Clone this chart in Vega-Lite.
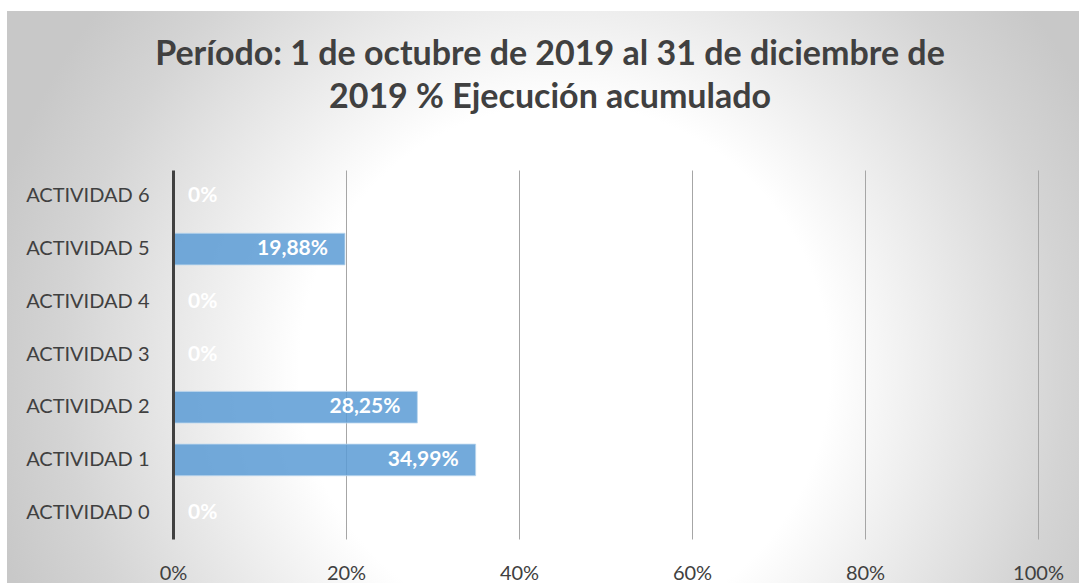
{
  "$schema": "https://vega.github.io/schema/vega-lite/v6.json",
  "width": 1072,
  "height": 572,
  "autosize": {"type": "none"},
  "padding": {"left": 7, "top": 11, "right": 0, "bottom": 0},
  "background": "#ffffff",
  "config": {
    "font": "Lato",
    "locale": {"number": {"decimal": ",", "thousands": ".", "grouping": [3], "currency": ["", " €"]}},
    "view": {
      "stroke": null,
      "fill": {
        "gradient": "radial",
        "x1": 0.52, "y1": 0.568, "r1": 0,
        "x2": 0.52, "y2": 0.568, "r2": 0.55,
        "stops": [
          {"offset": 0, "color": "#ffffff"},
          {"offset": 0.45, "color": "#ffffff"},
          {"offset": 0.85, "color": "#d4d4d4"},
          {"offset": 1, "color": "#c8c8c8"}
        ]
      }
    }
  },
  "title": {
    "text": ["Período: 1 de octubre de 2019 al 31 de diciembre de", "2019 % Ejecución acumulado"],
    "font": "Lato",
    "fontSize": 34,
    "fontWeight": "bold",
    "color": "#404040",
    "anchor": "middle",
    "frame": "group",
    "lineHeight": 43,
    "baseline": "top",
    "offset": 0,
    "dx": 7,
    "dy": 104
  },
  "data": {
    "values": [
      {"actividad": "ACTIVIDAD 0", "valor": 0},
      {"actividad": "ACTIVIDAD 1", "valor": 0.3499},
      {"actividad": "ACTIVIDAD 2", "valor": 0.2825},
      {"actividad": "ACTIVIDAD 3", "valor": 0},
      {"actividad": "ACTIVIDAD 4", "valor": 0},
      {"actividad": "ACTIVIDAD 5", "valor": 0.1988},
      {"actividad": "ACTIVIDAD 6", "valor": 0}
    ]
  },
  "encoding": {
    "y": {
      "field": "actividad", "type": "nominal",
      "sort": ["ACTIVIDAD 6", "ACTIVIDAD 5", "ACTIVIDAD 4", "ACTIVIDAD 3", "ACTIVIDAD 2", "ACTIVIDAD 1", "ACTIVIDAD 0"],
      "scale": {"range": [159, 528], "paddingInner": 0.4, "paddingOuter": 0.2},
      "axis": {
        "orient": "left", "offset": -166, "title": null,
        "domain": true, "domainColor": "#404040", "domainWidth": 3,
        "ticks": false, "grid": false,
        "labelFont": "Lato", "labelFontSize": 20, "labelColor": "#404040", "labelPadding": 24,
        "zindex": 1
      }
    }
  },
  "resolve": {"axis": {"x": "independent", "y": "shared"}},
  "layer": [
    {
      "mark": {"type": "bar", "fill": "#5B9BD5", "fillOpacity": 0.85, "stroke": "#bdd7ee", "strokeWidth": 1, "strokeOpacity": 0.8},
      "encoding": {
        "x": {
          "field": "valor", "type": "quantitative",
          "scale": {"domain": [0, 1], "range": [166, 1031]},
          "axis": {
            "orient": "top", "title": null, "labels": false, "ticks": false, "domain": false,
            "grid": true, "gridColor": "#a6a6a6", "gridWidth": 1,
            "values": [0.2, 0.4, 0.6, 0.8, 1]
          }
        }
      }
    },
    {
      "transform": [{"filter": "datum.valor > 0"}],
      "mark": {"type": "text", "align": "right", "baseline": "middle", "dx": -17, "font": "Lato", "fontSize": 21, "fontWeight": "bold", "color": "#ffffff"},
      "encoding": {
        "x": {
          "field": "valor", "type": "quantitative",
          "scale": {"domain": [0, 1], "range": [166, 1031]},
          "axis": {
            "orient": "bottom", "offset": -44, "title": null, "grid": false, "ticks": false, "domain": false,
            "format": ".0%", "values": [0, 0.2, 0.4, 0.6, 0.8, 1],
            "labelFont": "Lato", "labelFontSize": 20, "labelColor": "#404040", "labelPadding": 24,
            "labelFlush": false, "labelOverlap": false
          }
        },
        "text": {"field": "valor", "type": "quantitative", "format": ".2%"}
      }
    },
    {
      "transform": [{"filter": "datum.valor == 0"}],
      "mark": {"type": "text", "align": "left", "baseline": "middle", "dx": 15, "font": "Lato", "fontSize": 21, "fontWeight": "bold", "color": "#ffffff"},
      "encoding": {
        "x": {
          "field": "valor", "type": "quantitative",
          "scale": {"domain": [0, 1], "range": [166, 1031]},
          "axis": null
        },
        "text": {"field": "valor", "type": "quantitative", "format": ".0%"}
      }
    }
  ]
}
